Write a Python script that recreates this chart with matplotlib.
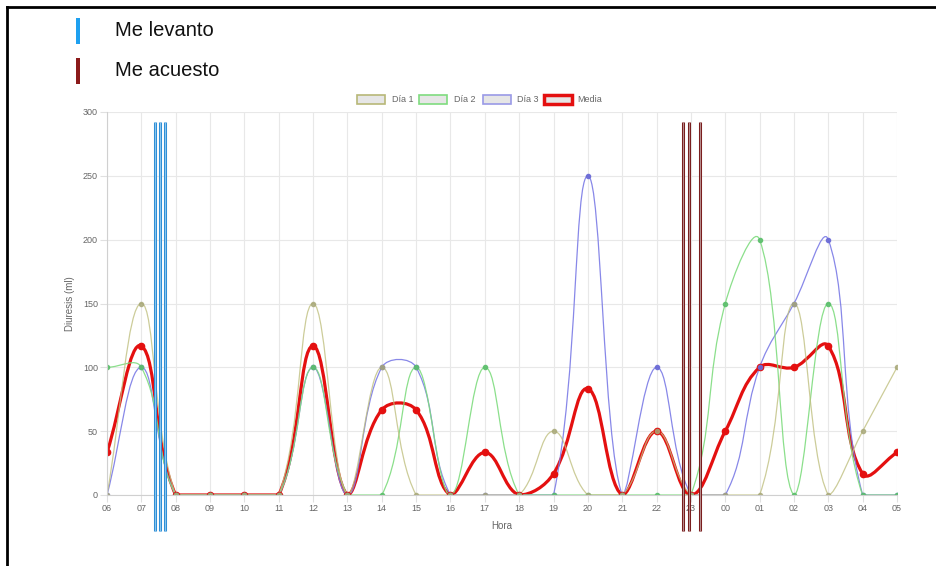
import numpy as np
import matplotlib
matplotlib.use("Agg")
import matplotlib.pyplot as plt
from matplotlib.path import Path
from matplotlib.patches import PathPatch, Rectangle
from matplotlib.lines import Line2D

plt.rcParams['font.family'] = ['Liberation Sans', 'DejaVu Sans']

# Data
horas = ["06", "07", "08", "09", "10", "11", "12", "13", "14", "15", "16", "17",
         "18", "19", "20", "21", "22", "23", "00", "01", "02", "03", "04", "05"]
dia1 = [0, 150, 0, 0, 0, 0, 150, 0, 100, 0, 0, 0, 0, 50, 0, 0, 50, 0, 0, 0, 150, 0, 50, 100]
dia2 = [100, 100, 0, 0, 0, 0, 100, 0, 0, 100, 0, 100, 0, 0, 0, 0, 0, 0, 150, 200, 0, 150, 0, 0]
dia3 = [0, 100, 0, 0, 0, 0, 100, 0, 100, 100, 0, 0, 0, 0, 250, 0, 100, 0, 0, 100, 150, 200, 0, 0]
media = [33.3, 116.7, 0, 0, 0, 0, 116.7, 0, 66.7, 66.7, 0, 33.3, 0, 16.7, 83.3, 0, 50, 0,
         50, 100, 100, 116.7, 16.7, 33.3]

# times (in hours after 06:00) of the event markers
levanto = [1.40, 1.55, 1.70]
acuesto = [16.77, 16.95, 17.26]

W, H = 936, 566
fig = plt.figure(figsize=(W / 100, H / 100), dpi=100)

def fx(px):
    return px / W

def fy(py):
    return 1 - py / H

ax = fig.add_axes([fx(107), fy(495), fx(897) - fx(107), fy(112) - fy(495)])
ax.set_xlim(0, 23)
ax.set_ylim(0, 300)

x = np.arange(len(horas))


def spline_path(xs, ys, tension=0.4):
    # chart.js style bezier, control points computed in pixel space
    pts = ax.transData.transform(np.column_stack([xs, ys]))
    n = len(pts)
    cp_prev = np.zeros_like(pts)
    cp_next = np.zeros_like(pts)
    for i in range(n):
        cur = pts[i]
        prev = pts[i - 1] if i > 0 else cur
        nxt = pts[i + 1] if i < n - 1 else cur
        d01 = np.hypot(*(cur - prev))
        d12 = np.hypot(*(nxt - cur))
        tot = d01 + d12
        s01 = d01 / tot if tot else 0
        s12 = d12 / tot if tot else 0
        cp_prev[i] = cur - tension * s01 * (nxt - prev)
        cp_next[i] = cur + tension * s12 * (nxt - prev)
    inv = ax.transData.inverted()
    cp_prev = inv.transform(cp_prev)
    cp_next = inv.transform(cp_next)
    cp_prev[:, 1] = np.clip(cp_prev[:, 1], 0, 300)
    cp_next[:, 1] = np.clip(cp_next[:, 1], 0, 300)
    data = np.column_stack([xs, ys]).astype(float)
    verts = [data[0]]
    codes = [Path.MOVETO]
    for i in range(1, n):
        verts += [cp_next[i - 1], cp_prev[i], data[i]]
        codes += [Path.CURVE4] * 3
    return Path(verts, codes)


series = [
    (media, "#e41010", 2.3, 4.5, "#e41010", 1.0),
    (dia3, "#7b7be6", 0.9, 3.0, "#6a6ad6", 0.9),
    (dia2, "#7fdc7f", 0.9, 3.0, "#5cbf6c", 0.9),
    (dia1, "#c0c080", 0.9, 3.0, "#a8a878", 0.8),
]
for vals, col, lw, ms, pcol, alpha in series:
    path = spline_path(x, vals)
    ax.add_patch(PathPatch(path, facecolor="none", edgecolor=col, lw=lw,
                           alpha=alpha, capstyle="round", joinstyle="round"))
    ax.plot(x, vals, "o", ms=ms, color=pcol, alpha=alpha, mec=pcol)

# axes styling
ax.set_xticks(x)
ax.set_xticklabels(horas)
ax.set_yticks([0, 50, 100, 150, 200, 250, 300])
ax.grid(True, color="#e8e8e8", lw=0.8)
ax.set_axisbelow(True)
for s in ["top", "right"]:
    ax.spines[s].set_visible(False)
for s in ["left", "bottom"]:
    ax.spines[s].set_color("#d0d0d0")
    ax.spines[s].set_linewidth(0.8)
ax.tick_params(colors="#e0e0e0", labelcolor="#666666", labelsize=6.5, length=5, width=0.8,
               pad=1.5)
ax.set_xlabel("Hora", fontsize=7, color="#666666", labelpad=6)
ax.set_ylabel("Diuresis (ml)", fontsize=7, color="#666666", labelpad=6)

# event markers (extend beyond the plotting area)
for times, dark, light in [(levanto, "#2f8fd6", "#8cc6ee"), (acuesto, "#7a1e1e", "#b89090")]:
    for t in times:
        ax.plot([t, t], [-28, 292], color=dark, lw=2.2, clip_on=False, zorder=10,
                solid_capstyle="butt")
        ax.plot([t, t], [-28, 292], color=light, lw=0.7, clip_on=False, zorder=11,
                solid_capstyle="butt")

# chart legend
leg = [("Día 1", "#b8b878", 1.2, 357, 392), ("Día 2", "#7fdc7f", 1.2, 419, 454),
       ("Día 3", "#9a9ae6", 1.2, 483, 517), ("Media", "#e41010", 2.5, 544, 577)]
for lab, col, lw, bx, tx in leg:
    fig.add_artist(Rectangle((fx(bx), fy(104)), fx(28), 9 / H, facecolor="#e6e6e6",
                             edgecolor=col, lw=lw, transform=fig.transFigure))
    fig.text(fx(tx), fy(100), lab, fontsize=6.5, color="#666666", va="center")

# top legend
fig.add_artist(Rectangle((fx(76), fy(44)), fx(4), 26 / H, facecolor="#1ea0f0",
                         edgecolor="none", transform=fig.transFigure))
fig.add_artist(Rectangle((fx(76), fy(84)), fx(4), 26 / H, facecolor="#8b1a1a",
                         edgecolor="none", transform=fig.transFigure))
fig.text(fx(115), fy(31), "Me levanto", fontsize=14.5, color="#111111", va="center")
fig.text(fx(115), fy(71), "Me acuesto", fontsize=14.5, color="#111111", va="center")

# page border
fig.add_artist(Line2D([fx(7), fx(7)], [0, fy(7)], color="black", lw=2, transform=fig.transFigure))
fig.add_artist(Line2D([fx(7), 1], [fy(7), fy(7)], color="black", lw=2, transform=fig.transFigure))

fig.savefig("out.png", dpi=100)
